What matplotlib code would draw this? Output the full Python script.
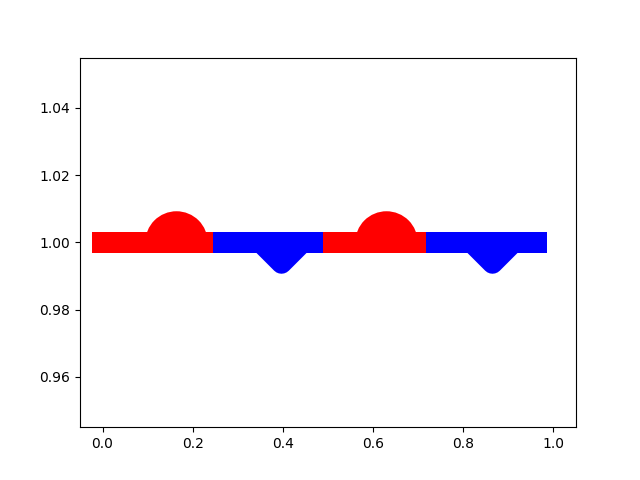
import matplotlib
matplotlib.use("Agg")
import matplotlib.pyplot as plt
from matplotlib.path import Path
from matplotlib.markers import MarkerStyle

# Data
y_value = 1.0
seg_edges = [-0.023, 0.246, 0.488, 0.717, 0.983]
seg_colors = ['red', 'blue', 'red', 'blue']
red_marker_x = [0.162, 0.629]
blue_marker_x = [0.396, 0.863]

fig, ax = plt.subplots(figsize=(6.4, 4.8), dpi=100)

lw = 14.8
for i, c in enumerate(seg_colors):
    ax.plot([seg_edges[i], seg_edges[i + 1]], [y_value, y_value],
            color=c, lw=lw, solid_capstyle='butt', antialiased=False)

# red half circles (top half)
ax.plot(red_marker_x, [y_value] * len(red_marker_x), linestyle='none',
        marker='o', fillstyle='top', markersize=45, markeredgewidth=0,
        markerfacecolor='red', markerfacecoloralt='none')

# blue rounded V shapes
v_path = Path([(-1, 0), (0, -1), (1, 0)])
v_marker = MarkerStyle(v_path, joinstyle='round')
ax.plot(blue_marker_x, [y_value] * len(blue_marker_x), linestyle='none',
        marker=v_marker, markersize=30.2, markeredgewidth=lw,
        markeredgecolor='blue', markerfacecolor='blue')

ax.set_xlim(-0.05, 1.05)
ax.set_ylim(0.945, 1.055)

fig.savefig("out.png", dpi=100)
